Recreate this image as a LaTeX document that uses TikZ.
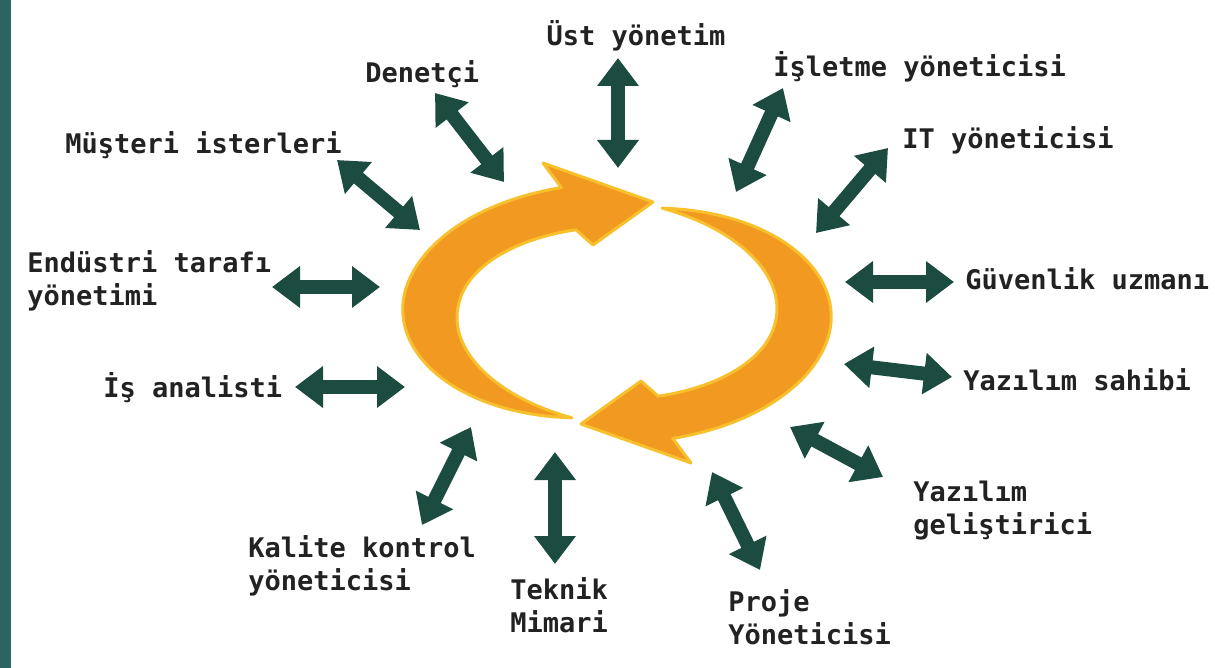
\documentclass[tikz,border=0pt]{standalone}
\usepackage{fontspec}
\usetikzlibrary{arrows.meta}
\newfontfamily\lblfont{DejaVu Sans Mono}
\definecolor{stripteal}{RGB}{44,99,99}
\definecolor{linkgreen}{RGB}{28,76,64}
\definecolor{ringorange}{RGB}{241,153,32}
\definecolor{ringedge}{RGB}{247,192,44}
\definecolor{lbltext}{RGB}{34,34,34}
\tikzstyle{lbl} = [inner sep=0pt, anchor=west, align=left, text=lbltext, font=\lblfont\bfseries\fontsize{13.5}{16.5}\selectfont]
\tikzstyle{link} = [draw=linkgreen, line width=7pt, {Triangle[width=20pt,length=14pt]}-{Triangle[width=20pt,length=14pt]}]
\tikzstyle{ring} = [fill=ringorange, draw=ringedge, line width=1.5pt, line join=round]
\newcommand{\link}[3]{\coordinate (#1-a) at (#2); \coordinate (#1-b) at (#3); \draw[link] (#1-a) -- (#1-b);}
\newcommand{\ringarrow}{\filldraw[ring] plot[domain=104:255,samples=60,variable=\t] ({617+(187+hw(\t))*cos(\t)},{313+(108+0.78*hw(\t))*sin(\t)}) -- (543,163) -- (653,202) -- (593,245) -- plot[domain=255:104,samples=60,variable=\t] ({617+(187-hw(\t))*cos(\t)},{313+(108-0.78*hw(\t))*sin(\t)}) -- cycle;}

\begin{document}
\begin{tikzpicture}[x=0.5pt, y=-0.5pt, declare function={hw(\t)=28*sin(min(\t-104,90));}]
\useasboundingbox (0,0) rectangle (1215,668);
\fill[stripteal] (0,0) rectangle (11,668);
% cycle
\ringarrow
\begin{scope}[rotate around={180:(617,313)}]
\ringarrow
\end{scope}
% roles
\node[lbl, anchor=center] (ust) at (636,36) {Üst yönetim};
\node[lbl] (denetci) at (365,74) {Denetçi};
\node[lbl] (isletme) at (773,67) {İşletme yöneticisi};
\node[lbl] (itmgr) at (902,140) {IT yöneticisi};
\node[lbl] (guvenlik) at (965,279) {Güvenlik uzmanı};
\node[lbl] (sahibi) at (963,380) {Yazılım sahibi};
\node[lbl] (gelistirici) at (913,511) {Yazılım\\geliştirici};
\node[lbl] (proje) at (728,617) {Proje\\Yöneticisi};
\node[lbl] (teknik) at (510,605) {Teknik\\Mimari};
\node[lbl] (kalite) at (248,566) {Kalite kontrol\\yöneticisi};
\node[lbl] (analist) at (103,388) {İş analisti};
\node[lbl] (endustri) at (27,281) {Endüstri tarafı\\yönetimi};
\node[lbl] (musteri) at (65,145) {Müşteri isterleri};
% links
\link{ust}{618,58}{618,168}
\link{denetci}{435,93}{504,182}
\link{isletme}{783,88}{736,192}
\link{itmgr}{888,148}{816,233}
\link{guvenlik}{845,282}{954,282}
\link{sahibi}{844,364}{952,377}
\link{gelistirici}{790,427}{883,477}
\link{proje}{712,472}{760,570}
\link{teknik}{555,452}{555,564}
\link{kalite}{471,427}{422,525}
\link{analist}{295,387}{405,387}
\link{endustri}{272,287}{380,287}
\link{musteri}{337,160}{420,230}
\end{tikzpicture}
\end{document}
